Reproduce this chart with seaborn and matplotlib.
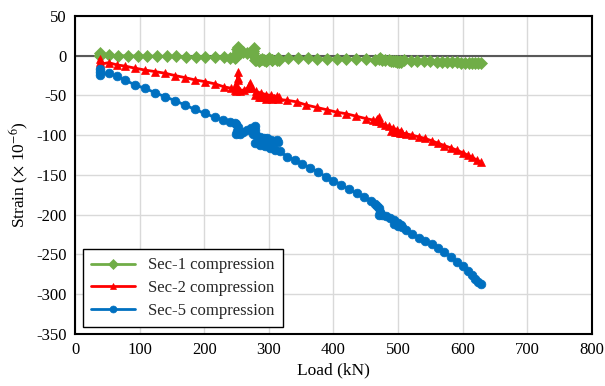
import matplotlib
matplotlib.use("Agg")
import matplotlib.pyplot as plt
import seaborn as sns
import pandas as pd

# ---------------- data ----------------
sec1_load = [38, 38, 38, 52, 67, 82, 97, 112, 127, 142, 157, 172, 187, 202, 217, 230, 240, 248,
             250, 251, 252, 252, 250, 255, 260, 266, 272, 276, 277, 276, 280, 286, 292, 298, 305, 312,
             316, 305, 295, 285, 278, 280, 290,
             300, 315, 330, 345, 360, 375, 390, 405, 420, 435, 450, 465,
             470, 472, 475, 480, 486, 492, 498, 503, 505, 498, 490, 495, 502,
             510, 520, 530, 540, 550, 560, 568, 576, 584, 592, 598, 604, 610, 615, 620, 624, 628]
sec1_strain = [3.5, 1.5, 0, 0.5, 0, -0.3, -0.5, -0.5, -0.8, -1.0, -1.0, -1.3, -1.5, -1.5, -1.8, -2.0, -2.5, -3,
               2, 8, 11, 6, -2, 4, 5, 4, 3, 6, 10, 4, -3, -5, -6, -6, -6, -6,
               -6, -6, -7, -7, -6, -5, -4,
               -3, -3, -3.2, -3.5, -3.5, -3.8, -4, -4, -4.3, -4.5, -4.5, -5,
               -4, -3, -5, -5.5, -6, -6.5, -7, -7, -8, -8, -7, -7, -7.5,
               -6, -6.3, -6.5, -7, -7, -7.5, -7.8, -8, -8.3, -8.5, -8.8, -9, -9.2, -9.3, -9.5, -9.6, -9.8]

sec2_load = [38, 38, 38, 52, 65, 77, 93, 108, 124, 139, 155, 170, 186, 201, 217, 230, 242,
             248, 250, 252, 253, 252, 250, 249, 255, 262, 268, 271, 274, 280, 288, 296, 304, 312, 316,
             308, 298, 288, 278, 285, 295, 305, 314,
             328, 343, 358, 374, 390, 405, 420, 435, 450, 462,
             466, 468, 470, 471, 474, 480, 486, 492, 498, 504, 506, 498, 490, 496, 503,
             512, 522, 532, 542, 552, 562, 572, 582, 592, 600, 608, 615, 622, 628]
sec2_strain = [-4.5, -8, -11, -8.7, -11.6, -13, -15.7, -18, -20, -22, -25, -27.5, -30.5, -32.6, -35.5, -39, -41,
               -43, -35, -28, -21, -30, -38, -45, -44, -43, -40, -34, -40, -45, -47, -49, -50, -51, -52,
               -53, -53, -52, -50, -52, -54, -55, -55,
               -56, -58, -62, -65, -68, -71, -73, -76, -79, -81,
               -82, -79, -77, -82, -85, -87, -89, -91, -93, -95, -97, -96, -95, -96, -97,
               -98, -100, -102, -104, -107, -110, -113, -116, -119, -122, -125, -128, -131, -134]

sec5_load = [38, 38, 38, 52, 65, 77, 93, 108, 124, 139, 155, 170, 186, 201, 217, 229, 240, 248,
             250, 252, 251, 249, 255, 260, 266, 272, 278, 279, 276, 280, 286, 292, 297, 304, 312, 315,
             308, 298, 288, 279, 286, 294, 302,
             310, 317, 328, 340, 352, 364, 376, 388, 400, 412, 424, 436, 448, 458, 465,
             468, 470, 472, 470, 476, 482, 488, 494, 500, 505, 500, 494, 500, 506,
             512, 522, 532, 542, 552, 562, 572, 582, 592, 600, 608, 614, 620, 624, 628]
sec5_strain = [-17, -21, -24, -22, -26, -30.5, -36.8, -41, -46.5, -51.5, -56.5, -62, -67.6, -72.6, -77.6, -81, -83, -85,
               -86, -90, -95, -98, -98, -96, -94, -91, -89, -94, -98, -100, -102, -103, -104, -106, -106, -108,
               -109, -110, -111, -110, -112, -114, -116,
               -118, -120, -127, -131, -136, -141, -146, -152, -157, -162, -168, -173, -178, -183, -187,
               -189, -192, -196, -200, -200, -202, -204, -207, -210, -213, -213, -212, -214, -216,
               -219, -224, -229, -233, -237, -242, -247, -253, -259, -265, -271, -276, -281, -284, -287]

series_names = ["Sec-1 compression", "Sec-2 compression", "Sec-5 compression"]
series_colors = ["#70AD47", "#FF0000", "#0070C0"]
series_markers = ["D", "^", "o"]
x_ticks = [0, 100, 200, 300, 400, 500, 600, 700, 800]
y_ticks = [-350, -300, -250, -200, -150, -100, -50, 0, 50]

# ---------------- build table ----------------
frames = []
for name, ld, st in zip(series_names,
                        [sec1_load, sec2_load, sec5_load],
                        [sec1_strain, sec2_strain, sec5_strain]):
    frames.append(pd.DataFrame({"Load": ld, "Strain": st, "Series": name}))
df = pd.concat(frames, ignore_index=True)

# ---------------- plot ----------------
sns.set_theme(style="white")
plt.rcParams["font.family"] = ["Liberation Serif", "DejaVu Serif"]
plt.rcParams["mathtext.fontset"] = "stix"
plt.rcParams["axes.unicode_minus"] = False

fig = plt.figure(figsize=(6.05, 3.86), dpi=100)
ax = fig.add_axes([0.124, 0.1347, 0.854, 0.824])

ax.grid(True, color="#d9d9d9", linewidth=1.0)
ax.set_axisbelow(True)
ax.axhline(0, color="#595959", linewidth=1.5, zorder=1.5)

sns.lineplot(data=df, x="Load", y="Strain", hue="Series", style="Series",
             hue_order=series_names, style_order=series_names,
             palette=dict(zip(series_names, series_colors)),
             markers=dict(zip(series_names, series_markers)),
             dashes=False, sort=False, estimator=None, units="Series",
             linewidth=2.0, markersize=6.3, markeredgewidth=0.5, ax=ax, zorder=3)

for line, c in zip(ax.lines[1:], series_colors):
    line.set_markeredgecolor(c)

ax.set_xlim(0, 800)
ax.set_ylim(-350, 50)
ax.set_xticks(x_ticks)
ax.set_yticks(y_ticks)
ax.tick_params(axis="both", length=0, labelsize=12, colors="black", pad=6)
for s in ax.spines.values():
    s.set_color("black")
    s.set_linewidth(1.5)

ax.set_xlabel("Load (kN)", fontsize=12.5, labelpad=3, color="black")
ax.set_ylabel(r"Strain ($\times$ 10$^{-6}$)", fontsize=12.5, labelpad=4, color="black")

handles, labels = ax.get_legend_handles_labels()
leg = ax.legend(handles, labels, loc="lower left", bbox_to_anchor=(0.0155, 0.022),
                borderaxespad=0, fancybox=False, frameon=True, edgecolor="black",
                framealpha=1, fontsize=12, handlelength=2.6, handletextpad=0.8,
                borderpad=0.5, labelspacing=0.4)
leg.get_frame().set_linewidth(1.0)
for lh, c in zip(leg.get_lines(), series_colors):
    lh.set_markeredgecolor(c)
    lh.set_markersize(5)

fig.savefig("out.png", dpi=100)
